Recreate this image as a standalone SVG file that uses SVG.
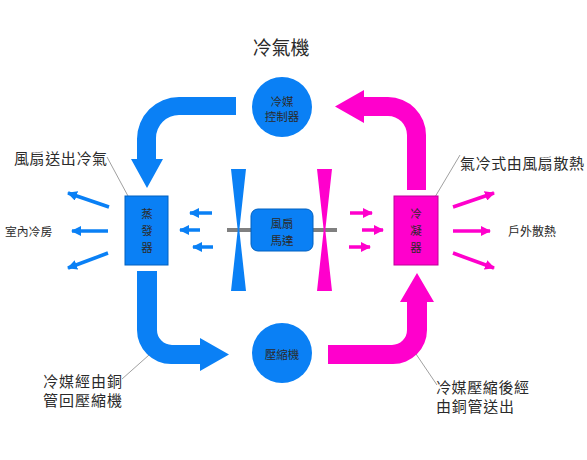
<svg xmlns="http://www.w3.org/2000/svg" width="587" height="460" viewBox="0 0 587 460">
<style>
text{font-family:"Noto Sans CJK TC","Noto Sans CJK SC",sans-serif;fill:#2a2a2a}
.lbl{font-size:15px}
.sm{font-size:11.5px;text-anchor:middle}
.blue{fill:#0a80f5}
.mag{fill:#ff00cc}
.ab{stroke:#0a80f5;stroke-width:3.5;fill:none;marker-end:url(#hb)}
.am{stroke:#ff00cc;stroke-width:3.5;fill:none;marker-end:url(#hm)}
.lead{stroke:#777;stroke-width:0.7;fill:none}
</style>
<defs>
<marker id="hb" markerWidth="10" markerHeight="10" refX="9" refY="5" orient="auto" markerUnits="userSpaceOnUse"><path d="M0,0 L10,5 L0,10 Z" fill="#0a80f5"/></marker>
<marker id="hm" markerWidth="10" markerHeight="10" refX="9" refY="5" orient="auto" markerUnits="userSpaceOnUse"><path d="M0,0 L10,5 L0,10 Z" fill="#ff00cc"/></marker>
</defs>
<rect width="587" height="460" fill="#fff"/>
<text x="281" y="55" style="font-size:19px;text-anchor:middle">冷氣機</text>

<g id="connectors">
<path class="blue" d="M236,97 L179,97 A42,42 0 0 0 137,139 L137,159 L131,159 L147,188 L163,159 L156,159 L156,138 A23,23 0 0 1 179,115 L236,115 Z"/>
<path class="blue" d="M137,271 L137,330 A34,34 0 0 0 171,364 L200,364 L200,371 L229,354.5 L200,338 L200,345 L172,345 A15,15 0 0 1 157,330 L157,271 Z"/>
<path class="mag" d="M328,345 L392,345 A15,15 0 0 0 407,330 L407,302 L400,302 L417,273 L434,302 L427,302 L427,330 A34,34 0 0 1 393,364 L328,364 Z"/>
<path class="mag" d="M407,190 L407,135 A19,19 0 0 0 388,116 L364,116 L364,123 L335,106.5 L364,90 L364,97 L388,97 A38,38 0 0 1 426,135 L426,190 Z"/>
<line class="ab" x1="212" y1="213" x2="190" y2="213"/>
<line class="ab" x1="200" y1="230" x2="180" y2="230"/>
<line class="ab" x1="213" y1="247" x2="193" y2="247"/>
<line class="am" x1="350" y1="213" x2="372" y2="213"/>
<line class="am" x1="362" y1="230" x2="383" y2="230"/>
<line class="am" x1="349" y1="247" x2="370" y2="247"/>
<line class="ab" x1="109" y1="207" x2="68" y2="193"/>
<line class="ab" x1="108" y1="231" x2="72" y2="231"/>
<line class="ab" x1="108" y1="253" x2="68" y2="268"/>
<line class="am" x1="453" y1="207" x2="494" y2="193"/>
<line class="am" x1="453" y1="231" x2="490" y2="231"/>
<line class="am" x1="453" y1="253" x2="494" y2="268"/>
<line class="lead" x1="107" y1="157" x2="128" y2="196"/>
<line class="lead" x1="460" y1="155" x2="435" y2="197"/>
<line class="lead" x1="122" y1="379" x2="149" y2="355"/>
<line class="lead" x1="437" y1="385" x2="416" y2="354"/>
</g>

<g id="fan">
<line x1="227" y1="230" x2="337" y2="230" stroke="#808080" stroke-width="4"/>
<polygon class="blue" points="231,169 246,169 239.3,230 246,291 231,291 237.7,230"/>
<polygon class="mag" points="317,169 332,169 325.3,230 332,291 317,291 323.7,230"/>
</g>

<g id="motor">
<rect x="251" y="209" width="62" height="42" rx="7" fill="#0a80f5" stroke="#0060c0" stroke-width="1"/>
<text class="sm" x="282" y="228">風扇</text>
<text class="sm" x="282" y="244.5">馬達</text>
</g>

<g id="controller">
<circle cx="282" cy="107" r="30" class="blue"/>
<text class="sm" x="282" y="106">冷媒</text>
<text class="sm" x="282" y="120.5">控制器</text>
</g>

<g id="compressor">
<circle cx="282" cy="353" r="30" class="blue"/>
<text class="sm" x="282" y="358.5">壓縮機</text>
</g>

<g id="evaporator">
<rect x="125" y="196" width="43" height="69" fill="#0a80f5" stroke="#0060c0" stroke-width="1"/>
<text class="sm" x="147" y="217.5">蒸</text>
<text class="sm" x="147" y="234.5">發</text>
<text class="sm" x="147" y="251.5">器</text>
</g>

<g id="condenser">
<rect x="394" y="196" width="44" height="69" fill="#ff00cc" stroke="#c00099" stroke-width="1"/>
<text class="sm" x="416" y="217.5">冷</text>
<text class="sm" x="416" y="234.5">凝</text>
<text class="sm" x="416" y="251.5">器</text>
</g>

<g id="labels">
<text class="lbl" x="14" y="164" textLength="93">風扇送出冷氣</text>
<text class="lbl" x="460" y="169" textLength="124">氣冷式由風扇散熱</text>
<text class="lbl" x="43" y="387" textLength="79">冷媒經由銅</text>
<text class="lbl" x="43" y="406" textLength="79">管回壓縮機</text>
<text class="lbl" x="436" y="392.5" textLength="93">冷媒壓縮後經</text>
<text class="lbl" x="436" y="411.5" textLength="78">由銅管送出</text>
<text x="5" y="235.5" style="font-size:11.8px">室內冷房</text>
<text x="508" y="235.5" style="font-size:12px">戶外散熱</text>
</g>
</svg>
